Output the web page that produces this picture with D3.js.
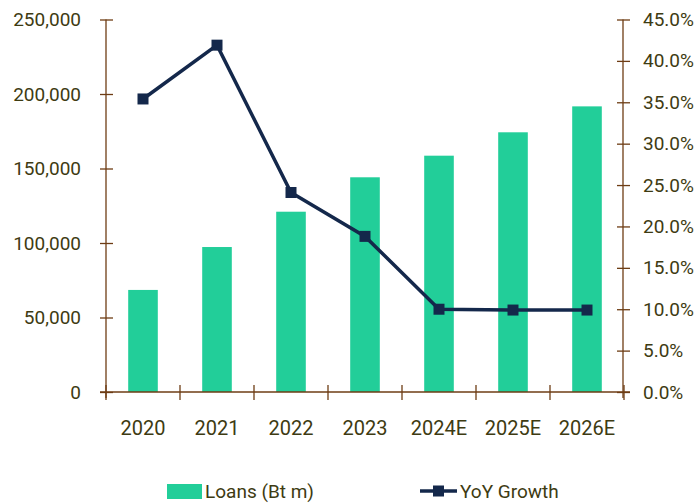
<!DOCTYPE html>
<html>
<head>
<meta charset="utf-8">
<script src="https://cdn.jsdelivr.net/npm/d3@7"></script>
<style>
  body { margin: 0; background: #fff; }
  text { font-family: Roboto, "Noto Sans", sans-serif; }
</style>
</head>
<body>
<div id="main"></div>
<script>
const years = ["2020", "2021", "2022", "2023", "2024E", "2025E", "2026E"];
const loans = [68500, 97300, 121000, 144100, 158600, 174300, 191700];
const growth = [0.354, 0.419, 0.241, 0.188, 0.100, 0.099, 0.099];
const leftTicks = [0, 50000, 100000, 150000, 200000, 250000];
const rightTicks = [0, 0.05, 0.10, 0.15, 0.20, 0.25, 0.30, 0.35, 0.40, 0.45];

const width = 695, height = 503;
const barColor = "#22ce99";
const lineColor = "#14284b";
const axisColor = "#6e3d14";
const textColor = "#3e3b12";

const svg = d3.select("#main").append("svg")
  .attr("width", width)
  .attr("height", height);

const x = d3.scaleBand().domain(years).range([106, 624]);
const y = d3.scaleLinear().domain([0, 250000]).range([392, 19.5]);
const y2 = d3.scaleLinear().domain([0, 0.45]).range([392, 19.5]);

// bars
const bw = x.bandwidth() * 0.4;
svg.append("g")
  .selectAll("rect")
  .data(years)
  .enter()
  .append("rect")
  .attr("x", (d) => x(d) + (x.bandwidth() - bw) / 2)
  .attr("y", (d, i) => y(loans[i]))
  .attr("width", bw)
  .attr("height", (d, i) => y(0) - y(loans[i]))
  .attr("fill", barColor);

// left axis
const gl = svg.append("g")
  .attr("transform", "translate(106,0)")
  .call(d3.axisLeft(y).tickValues(leftTicks).tickFormat(d3.format(",")).tickSize(6).tickPadding(19));
gl.select(".domain").attr("stroke", axisColor).attr("stroke-width", 1.3)
  .attr("d", "M0,19.5V398");
gl.selectAll(".tick line").attr("x1", 7).attr("stroke", axisColor).attr("stroke-width", 1.3);
gl.selectAll(".tick text").attr("fill", textColor).style("font-size", "19px");

// right axis
const gr = svg.append("g")
  .attr("transform", "translate(623,0)")
  .call(d3.axisRight(y2).tickValues(rightTicks).tickFormat(d3.format(".1%")).tickSize(7).tickPadding(13));
gr.select(".domain").attr("stroke", axisColor).attr("stroke-width", 1.3)
  .attr("d", "M0,19.5V398");
gr.selectAll(".tick line").attr("x1", -6).attr("stroke", axisColor).attr("stroke-width", 1.3);
gr.selectAll(".tick text").attr("fill", textColor).style("font-size", "19px");

// x axis
const gx = svg.append("g")
  .attr("transform", "translate(0,392)")
  .call(d3.axisBottom(x).tickSize(0).tickPadding(29));
gx.select(".domain").attr("stroke", axisColor).attr("stroke-width", 1.3)
  .attr("d", "M100,0H630");
gx.selectAll(".tick text").attr("fill", textColor).style("font-size", "20px");
gx.selectAll("line.sep")
  .data(years.concat(["end"]))
  .enter()
  .append("line")
  .attr("class", "sep")
  .attr("x1", (d, i) => i < years.length ? x(d) : x.range()[1])
  .attr("x2", (d, i) => i < years.length ? x(d) : x.range()[1])
  .attr("y1", -7)
  .attr("y2", 8)
  .attr("stroke", axisColor)
  .attr("stroke-width", 1.3);

// growth line
const cx = (d) => x(d) + x.bandwidth() / 2;
svg.append("path")
  .datum(years)
  .attr("fill", "none")
  .attr("stroke", lineColor)
  .attr("stroke-width", 3.5)
  .attr("d", d3.line().x(cx).y((d, i) => y2(growth[i])));

svg.append("g")
  .selectAll("rect")
  .data(years)
  .enter()
  .append("rect")
  .attr("x", (d) => cx(d) - 5.5)
  .attr("y", (d, i) => y2(growth[i]) - 5.5)
  .attr("width", 11)
  .attr("height", 11)
  .attr("fill", lineColor);

// legend
const lg = svg.append("g");
lg.append("rect")
  .attr("x", 167).attr("y", 484).attr("width", 35).attr("height", 15)
  .attr("fill", barColor);
lg.append("text")
  .attr("x", 205).attr("y", 498)
  .attr("fill", textColor)
  .style("font-size", "19px")
  .text("Loans (Bt m)");
lg.append("line")
  .attr("x1", 420).attr("x2", 457).attr("y1", 491).attr("y2", 491)
  .attr("stroke", lineColor).attr("stroke-width", 3.5);
lg.append("rect")
  .attr("x", 433).attr("y", 485.5).attr("width", 11).attr("height", 11)
  .attr("fill", lineColor);
lg.append("text")
  .attr("x", 460).attr("y", 498)
  .attr("fill", textColor)
  .style("font-size", "19px")
  .text("YoY Growth");
</script>
</body>
</html>
